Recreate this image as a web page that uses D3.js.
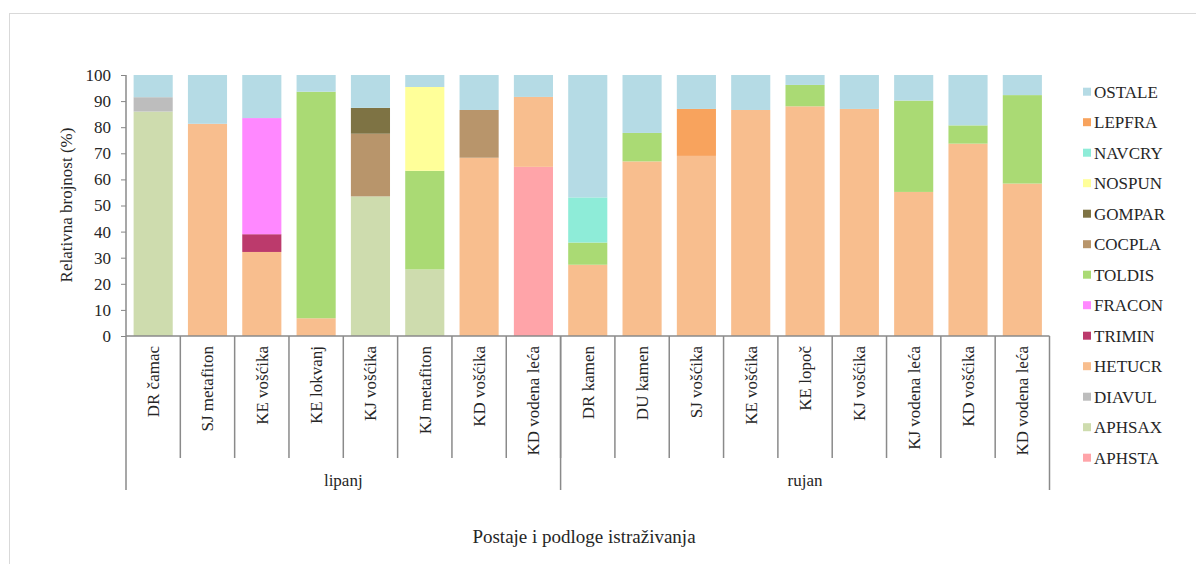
<!DOCTYPE html>
<html>
<head>
<meta charset="utf-8">
<script src="https://cdn.jsdelivr.net/npm/d3@7"></script>
<style>
  body { margin: 0; background: #fff; }
  text { font-family: "Liberation Serif", "Times New Roman", serif; fill: #262626; }
</style>
</head>
<body>
<div id="chart"></div>
<script>
// station / substrate labels, in order
const categories = ["DR čamac", "SJ metafiton", "KE vošćika", "KE lokvanj", "KJ vošćika", "KJ metafiton", "KD vošćika", "KD vodena leća",
    "DR kamen", "DU kamen", "SJ vošćika", "KE vošćika", "KE lopoč", "KJ vošćika", "KJ vodena leća", "KD vošćika", "KD vodena leća"];
const groups = ["lipanj", "rujan"];
const groupSizes = [8, 9];

// relative abundance (%) per taxon, stacked bottom -> top in this order
const APHSTA = [0, 0, 0, 0, 0, 0, 0, 64.8, 0, 0, 0, 0, 0, 0, 0, 0, 0];
const APHSAX = [86, 0, 0, 0, 53.5, 25.5, 0, 0, 0, 0, 0, 0, 0, 0, 0, 0, 0];
const DIAVUL = [5.5, 0, 0, 0, 0, 0, 0, 0, 0, 0, 0, 0, 0, 0, 0, 0, 0];
const HETUCR = [0, 81.3, 32.2, 6.8, 0, 0, 68.3, 26.8, 27.3, 66.9, 69, 86.6, 88, 87, 55.2, 73.7, 58.4];
const TRIMIN = [0, 0, 6.8, 0, 0, 0, 0, 0, 0, 0, 0, 0, 0, 0, 0, 0, 0];
const FRACON = [0, 0, 44.5, 0, 0, 0, 0, 0, 0, 0, 0, 0, 0, 0, 0, 0, 0];
const TOLDIS = [0, 0, 0, 86.8, 0, 37.8, 0, 0, 8.5, 10.9, 0, 0, 8.2, 0, 35, 7, 33.9];
const COCPLA = [0, 0, 0, 0, 24, 0, 18.3, 0, 0, 0, 0, 0, 0, 0, 0, 0, 0];
const GOMPAR = [0, 0, 0, 0, 9.9, 0, 0, 0, 0, 0, 0, 0, 0, 0, 0, 0, 0];
const NOSPUN = [0, 0, 0, 0, 0, 32.1, 0, 0, 0, 0, 0, 0, 0, 0, 0, 0, 0];
const NAVCRY = [0, 0, 0, 0, 0, 0, 0, 0, 17.3, 0, 0, 0, 0, 0, 0, 0, 0];
const LEPFRA = [0, 0, 0, 0, 0, 0, 0, 0, 0, 0, 18, 0, 0, 0, 0, 0, 0];
const OSTALE = [8.5, 18.7, 16.5, 6.4, 12.6, 4.6, 13.4, 8.4, 46.9, 22.2, 13, 13.4, 3.8, 13, 9.8, 19.3, 7.7];

const yTicks = [0, 10, 20, 30, 40, 50, 60, 70, 80, 90, 100];

const series = { APHSTA, APHSAX, DIAVUL, HETUCR, TRIMIN, FRACON, TOLDIS, COCPLA, GOMPAR, NOSPUN, NAVCRY, LEPFRA, OSTALE };
const keys = Object.keys(series);
const colors = {
    APHSTA: "#ffa4a9", APHSAX: "#cedcae", DIAVUL: "#bdbdbd", HETUCR: "#f8be8e", TRIMIN: "#bc3a6c",
    FRACON: "#ff88ff", TOLDIS: "#aada74", COCPLA: "#b8956b", GOMPAR: "#7e7344", NOSPUN: "#ffff99",
    NAVCRY: "#8eecd8", LEPFRA: "#f8a35d", OSTALE: "#b5dbe5"
};

const rows = categories.map((c, i) => {
    const r = { idx: i };
    keys.forEach(k => r[k] = series[k][i]);
    return r;
});
const stacked = d3.stack().keys(keys)(rows);

const svg = d3.select("#chart").append("svg")
    .attr("width", 1196)
    .attr("height", 564);

// outer frame
svg.append("rect")
    .attr("x", 9.5).attr("y", 13.5)
    .attr("width", 1200).attr("height", 600)
    .attr("fill", "none").attr("stroke", "#d9d9d9");

const plotLeft = 126, plotRight = 1049.5, plotTop = 75, plotBottom = 336;

const xCat = d3.scaleBand()
    .domain(d3.range(categories.length))
    .range([plotLeft, plotRight])
    .padding(0);
const xBar = d3.scaleBand()
    .domain(d3.range(categories.length))
    .range([plotLeft, plotRight])
    .paddingInner(0.28)
    .paddingOuter(0.14);
const y = d3.scaleLinear().domain([0, 100]).range([plotBottom, plotTop]);

// bars
svg.append("g").selectAll("g")
    .data(stacked)
    .enter()
    .append("g")
        .attr("fill", d => colors[d.key])
    .selectAll("rect")
    .data(d => d)
    .enter()
    .append("rect")
        .attr("x", d => xBar(d.data.idx))
        .attr("y", d => y(d[1]))
        .attr("width", xBar.bandwidth())
        .attr("height", d => y(d[0]) - y(d[1]));

// y axis
const yAxis = svg.append("g")
    .attr("transform", `translate(${plotLeft},0)`)
    .call(d3.axisLeft(y).tickValues(yTicks).tickSize(5).tickPadding(10));
yAxis.select(".domain").remove();
yAxis.selectAll("line").attr("stroke", "#868686");
yAxis.selectAll("text")
    .style("font-family", "Liberation Serif")
    .style("font-size", "17px")
    .attr("fill", "#262626");

const lineColor = "#8a8a8a";
// y axis line continues down through the category box
svg.append("line")
    .attr("x1", plotLeft).attr("x2", plotLeft)
    .attr("y1", plotTop).attr("y2", 490)
    .attr("stroke", lineColor).attr("stroke-width", 1.5);
// baseline
svg.append("line")
    .attr("x1", plotLeft).attr("x2", plotRight)
    .attr("y1", plotBottom).attr("y2", plotBottom)
    .attr("stroke", lineColor).attr("stroke-width", 1.5);

// category dividers
svg.append("g").selectAll("line")
    .data(d3.range(1, categories.length))
    .enter()
    .append("line")
        .attr("x1", d => xCat(d)).attr("x2", d => xCat(d))
        .attr("y1", plotBottom).attr("y2", 458)
        .attr("stroke", lineColor).attr("stroke-width", 1.5);

// group dividers
const groupEdges = [0, groupSizes[0], groupSizes[0] + groupSizes[1]];
const edgeX = e => e < categories.length ? xCat(e) : plotRight;
svg.append("g").selectAll("line")
    .data(groupEdges.slice(1))
    .enter()
    .append("line")
        .attr("x1", edgeX).attr("x2", edgeX)
        .attr("y1", plotBottom).attr("y2", 490)
        .attr("stroke", lineColor).attr("stroke-width", 1.5);

// category labels (rotated)
svg.append("g").selectAll("text")
    .data(categories)
    .enter()
    .append("text")
        .attr("transform", (d, i) => `translate(${xCat(i) + xCat.bandwidth() / 2},346) rotate(-90)`)
        .attr("text-anchor", "end")
        .attr("dy", "0.35em")
        .style("font-size", "17px")
        .text(d => d);

// group labels
svg.append("g").selectAll("text")
    .data(groups)
    .enter()
    .append("text")
        .attr("x", (d, i) => (edgeX(groupEdges[i]) + edgeX(groupEdges[i + 1])) / 2)
        .attr("y", 486)
        .attr("text-anchor", "middle")
        .style("font-size", "17px")
        .text(d => d);

// axis titles
svg.append("text")
    .attr("transform", "translate(72,205) rotate(-90)")
    .attr("text-anchor", "middle")
    .style("font-size", "17px")
    .text("Relativna brojnost (%)");
svg.append("text")
    .attr("x", 584)
    .attr("y", 543)
    .attr("text-anchor", "middle")
    .style("font-size", "19px")
    .text("Postaje i podloge istraživanja");

// legend, top entry is the top of the stack
const legendKeys = keys.slice().reverse();
const legend = svg.append("g").selectAll("g")
    .data(legendKeys)
    .enter()
    .append("g")
        .attr("transform", (d, i) => `translate(1083,${91.7 + i * 30.5})`);
legend.append("rect")
    .attr("x", 0).attr("y", -4)
    .attr("width", 8).attr("height", 8)
    .attr("fill", d => colors[d]);
legend.append("text")
    .attr("x", 11)
    .attr("dy", "0.35em")
    .style("font-size", "17px")
    .text(d => d);
</script>
</body>
</html>
